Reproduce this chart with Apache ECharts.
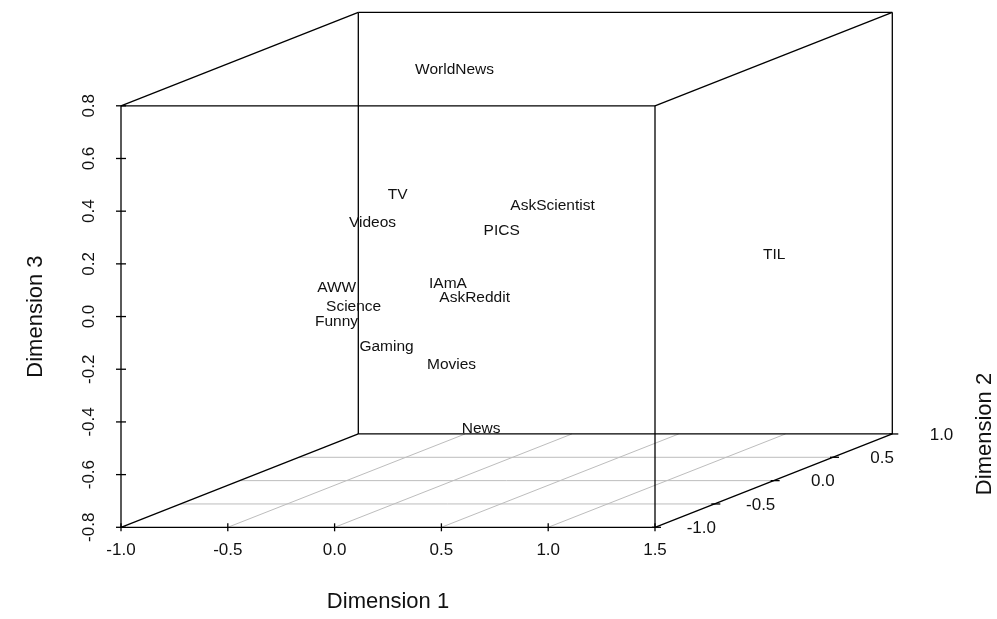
<!DOCTYPE html>
<html>
<head>
<meta charset="utf-8">
<title>Subreddit dimensions</title>
<script src="https://cdn.jsdelivr.net/npm/echarts@6/dist/echarts.min.js"></script>
<style>
  html, body { margin: 0; padding: 0; background: #ffffff; }
  #chart { width: 997px; height: 619px; }
</style>
</head>
<body>
<div id="chart"></div>
<script>
// Subreddit coordinates on three scaled dimensions
const subreddits = ['WorldNews', 'TV', 'AskScientist', 'Videos', 'PICS', 'TIL', 'IAmA',
                    'AWW', 'AskReddit', 'Science', 'Funny', 'Gaming', 'Movies', 'News'];
const dim1 = [-0.105, -0.038, 0.187, 0.011, 0.171, 1.003, 0.031, -0.046, 0.100, -0.022, 0.009, 0.021, 0.103, -0.036];
const dim2 = [0.2, -0.4, 0.5, -0.7, 0.1, 0.9, -0.1, -0.9, 0.0, -0.8, -1.0, -0.6, -0.2, 0.3];
const dim3 = [0.725, 0.357, 0.155, 0.303, 0.132, -0.102, -0.034, 0.092, -0.105, 0.002, -0.019, -0.187, -0.323, -0.655];

// Tick values of the three axes
const dim1Ticks = [-1.0, -0.5, 0.0, 0.5, 1.0, 1.5];
const dim2Ticks = [-1.0, -0.5, 0.0, 0.5, 1.0];
const dim3Ticks = [-0.8, -0.6, -0.4, -0.2, 0.0, 0.2, 0.4, 0.6, 0.8];

// Cube extents
const X_MIN = dim1Ticks[0], X_MAX = dim1Ticks[dim1Ticks.length - 1];
const Y_MIN = dim2Ticks[0], Y_MAX = dim2Ticks[dim2Ticks.length - 1];
const Z_MIN = dim3Ticks[0], Z_MAX = dim3Ticks[dim3Ticks.length - 1];

// Oblique projection: going from the front to the back face shifts
// a point right and up by these amounts (in front-face axis units).
const DEPTH_DX = 1.111;
const DEPTH_DZ = 0.3543;

function project(x, y, z) {
  const f = (y - Y_MIN) / (Y_MAX - Y_MIN);
  return [x + f * DEPTH_DX, z + f * DEPTH_DZ];
}

const FONT = '"Liberation Sans", Arial, Helvetica, sans-serif';
const INK = '#111111';

function fmt(v) {
  if (Math.abs(v) < 1e-9) return '0.0';
  return v.toFixed(1);
}

// ---- box edges -------------------------------------------------------
const corners = [];
[Y_MIN, Y_MAX].forEach(y => [Z_MIN, Z_MAX].forEach(z => [X_MIN, X_MAX].forEach(x => corners.push([x, y, z]))));
const boxSegments = [];
for (let i = 0; i < corners.length; i++) {
  for (let j = i + 1; j < corners.length; j++) {
    const a = corners[i], b = corners[j];
    let diff = 0;
    for (let k = 0; k < 3; k++) if (a[k] !== b[k]) diff++;
    if (diff === 1) {
      const p = project(a[0], a[1], a[2]), q = project(b[0], b[1], b[2]);
      boxSegments.push([p[0], p[1], q[0], q[1]]);
    }
  }
}

// ---- floor grid -------------------------------------------------------
const gridSegments = [];
dim1Ticks.slice(1, -1).forEach(x => {
  const p = project(x, Y_MIN, Z_MIN), q = project(x, Y_MAX, Z_MIN);
  gridSegments.push([p[0], p[1], q[0], q[1]]);
});
dim2Ticks.slice(1, -1).forEach(y => {
  const p = project(X_MIN, y, Z_MIN), q = project(X_MAX, y, Z_MIN);
  gridSegments.push([p[0], p[1], q[0], q[1]]);
});

// ---- tick marks (kind 0: dim1, 1: dim3, 2: dim2) ------------------------
const tickMarks = [];
dim1Ticks.forEach(x => { const p = project(x, Y_MIN, Z_MIN); tickMarks.push([p[0], p[1], 0]); });
dim3Ticks.forEach(z => { const p = project(X_MIN, Y_MIN, z); tickMarks.push([p[0], p[1], 1]); });
dim2Ticks.forEach(y => { const p = project(X_MAX, y, Z_MIN); tickMarks.push([p[0], p[1], 2]); });

const depthLabels = dim2Ticks.map(y => { const p = project(X_MAX, y, Z_MIN); return [p[0], p[1], fmt(y)]; });

const pointData = subreddits.map((name, i) => {
  const p = project(dim1[i], dim2[i], dim3[i]);
  return [p[0], p[1], name];
});

function segmentRenderer(color, width) {
  return function (params, api) {
    const a = api.coord([api.value(0), api.value(1)]);
    const b = api.coord([api.value(2), api.value(3)]);
    return {
      type: 'line',
      shape: { x1: a[0], y1: a[1], x2: b[0], y2: b[1] },
      style: { stroke: color, lineWidth: width }
    };
  };
}

const chart = echarts.init(document.getElementById('chart'), null, { renderer: 'canvas' });

chart.setOption({
  animation: false,
  backgroundColor: '#ffffff',
  grid: {
    left: 121, top: 105.8, width: 534, height: 421.5,
    containLabel: false, outerBoundsMode: 'none', show: false
  },
  xAxis: {
    type: 'value', min: X_MIN, max: X_MAX, interval: 0.5,
    name: 'Dimension 1', nameLocation: 'middle', nameGap: 64, nameMoveOverlap: false,
    nameTextStyle: { fontFamily: FONT, fontSize: 22, color: INK },
    axisLine: { show: false }, axisTick: { show: false }, splitLine: { show: false },
    axisLabel: {
      show: true, margin: 15, fontFamily: FONT, fontSize: 17, color: INK,
      showMinLabel: true, showMaxLabel: true, hideOverlap: false, formatter: fmt
    }
  },
  yAxis: {
    type: 'value', min: Z_MIN, max: Z_MAX, interval: 0.2,
    name: 'Dimension 3', nameLocation: 'middle', nameGap: 74, nameRotate: 90, nameMoveOverlap: false,
    nameTextStyle: { fontFamily: FONT, fontSize: 22, color: INK },
    axisLine: { show: false }, axisTick: { show: false }, splitLine: { show: false },
    axisLabel: {
      show: true, rotate: 90, margin: 23, fontFamily: FONT, fontSize: 17, color: INK,
      showMinLabel: true, showMaxLabel: true, hideOverlap: false, formatter: fmt
    }
  },
  graphic: [{
    type: 'text', x: 985, y: 434, rotation: Math.PI / 2,
    style: { text: 'Dimension 2', font: '22px ' + FONT, fill: INK, align: 'center', verticalAlign: 'middle' }
  }],
  series: [
    {
      name: 'floor grid', type: 'custom', clip: false, silent: true, z: 1,
      data: gridSegments, renderItem: segmentRenderer('#bdbdbd', 1)
    },
    {
      name: 'box', type: 'custom', clip: false, silent: true, z: 2,
      data: boxSegments, renderItem: segmentRenderer('#000000', 1.3)
    },
    {
      name: 'ticks', type: 'custom', clip: false, silent: true, z: 3,
      data: tickMarks,
      renderItem: function (params, api) {
        const p = api.coord([api.value(0), api.value(1)]);
        const kind = api.value(2);
        let shape;
        if (kind === 0) shape = { x1: p[0], y1: p[1] - 4, x2: p[0], y2: p[1] + 4 };
        else if (kind === 1) shape = { x1: p[0] - 5, y1: p[1], x2: p[0] + 5, y2: p[1] };
        else shape = { x1: p[0] - 3, y1: p[1], x2: p[0] + 6, y2: p[1] };
        return { type: 'line', shape: shape, style: { stroke: '#000000', lineWidth: 1.3 } };
      }
    },
    {
      name: 'dim2 labels', type: 'custom', clip: false, silent: true, z: 3,
      data: depthLabels,
      renderItem: function (params, api) {
        const p = api.coord([api.value(0), api.value(1)]);
        return {
          type: 'text', x: p[0] + 61, y: p[1] + 1,
          style: { text: depthLabels[params.dataIndex][2], font: '17px ' + FONT, fill: INK,
                   align: 'right', verticalAlign: 'middle' }
        };
      }
    },
    {
      name: 'subreddits', type: 'custom', clip: false, silent: true, z: 4,
      data: pointData,
      renderItem: function (params, api) {
        const p = api.coord([api.value(0), api.value(1)]);
        return {
          type: 'text', x: p[0], y: p[1],
          style: { text: pointData[params.dataIndex][2], font: '15.5px ' + FONT, fill: INK,
                   align: 'center', verticalAlign: 'middle' }
        };
      }
    }
  ]
});
</script>
</body>
</html>
